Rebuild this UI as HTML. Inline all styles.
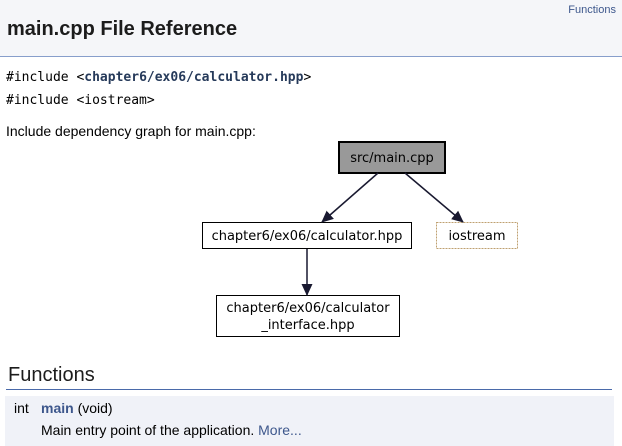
<!DOCTYPE html>
<html><head><meta charset="utf-8"><style>
*{margin:0;padding:0;box-sizing:border-box}
body{width:622px;height:446px;background:#fff;font-family:"Liberation Sans",sans-serif;color:#000;position:relative;overflow:hidden}
.hdr{position:absolute;left:0;top:0;width:622px;height:57px;background:#f5f6f9;border-bottom:1px solid #879ecb}
.t{position:absolute;font-size:14px;white-space:nowrap}
.mono{font-family:"DejaVu Sans Mono","Liberation Mono",monospace;font-size:13px}
a{color:#3d578c;text-decoration:none}
</style></head><body>
<div class="hdr"></div>
<div class="t" style="right:6px;top:4px;font-size:11px;color:#3d578c">Functions</div>
<div class="t" style="left:7px;top:18px;font-size:20px;font-weight:bold;color:#1c1c1c">main.cpp File Reference</div>
<div class="t mono" style="left:6px;top:70px">#include &lt;<b style="color:#263a5a">chapter6/ex06/calculator.hpp</b>&gt;</div>
<div class="t mono" style="left:6px;top:93px">#include &lt;iostream&gt;</div>
<div class="t" style="left:6px;top:123px">Include dependency graph for main.cpp:</div>
<svg style="position:absolute;left:0;top:0" width="622" height="446">
<defs><marker id="a" markerWidth="12" markerHeight="12" refX="11" refY="6" orient="auto" markerUnits="userSpaceOnUse"><path d="M0,0.5 L12,6 L0,11.5z" fill="#191930"/></marker></defs>
<rect x="339" y="142" width="106" height="31" fill="#999" stroke="#000" stroke-width="2"/>
<text x="392" y="162" text-anchor="middle" font-family="DejaVu Sans,sans-serif" font-size="13">src/main.cpp</text>
<rect x="202.5" y="222.5" width="209" height="26" fill="#fff" stroke="#000"/>
<text x="307" y="240" text-anchor="middle" font-family="DejaVu Sans,sans-serif" font-size="13">chapter6/ex06/calculator.hpp</text>
<rect x="436.5" y="222.5" width="81" height="26" fill="#fff" stroke="#bfa070" stroke-dasharray="2,1"/>
<text x="477" y="240" text-anchor="middle" font-family="DejaVu Sans,sans-serif" font-size="13">iostream</text>
<rect x="216.5" y="295.5" width="183" height="41" fill="#fff" stroke="#000"/>
<text x="308" y="312" text-anchor="middle" font-family="DejaVu Sans,sans-serif" font-size="13">chapter6/ex06/calculator</text>
<text x="308" y="329" text-anchor="middle" font-family="DejaVu Sans,sans-serif" font-size="13">_interface.hpp</text>
<line x1="378" y1="173" x2="322" y2="222" stroke="#191930" stroke-width="1.5" marker-end="url(#a)"/>
<line x1="405" y1="173" x2="463" y2="222" stroke="#191930" stroke-width="1.5" marker-end="url(#a)"/>
<line x1="307" y1="249" x2="307" y2="295" stroke="#191930" stroke-width="1.5" marker-end="url(#a)"/>
</svg>
<div class="t" style="left:8px;top:364px;font-size:20px;color:#1c1c1c">Functions</div>
<div style="position:absolute;left:6px;top:389px;width:606px;height:1px;background:#4a6aaa"></div>
<div style="position:absolute;left:5px;top:396px;width:609px;height:50px;background:#f0f2f8"></div>
<div class="t" style="left:14px;top:400px">int</div>
<div class="t" style="left:41px;top:400px"><a style="font-weight:bold">main</a> (void)</div>
<div class="t" style="left:41px;top:422px">Main entry point of the application. <a>More...</a></div>
</body></html>
